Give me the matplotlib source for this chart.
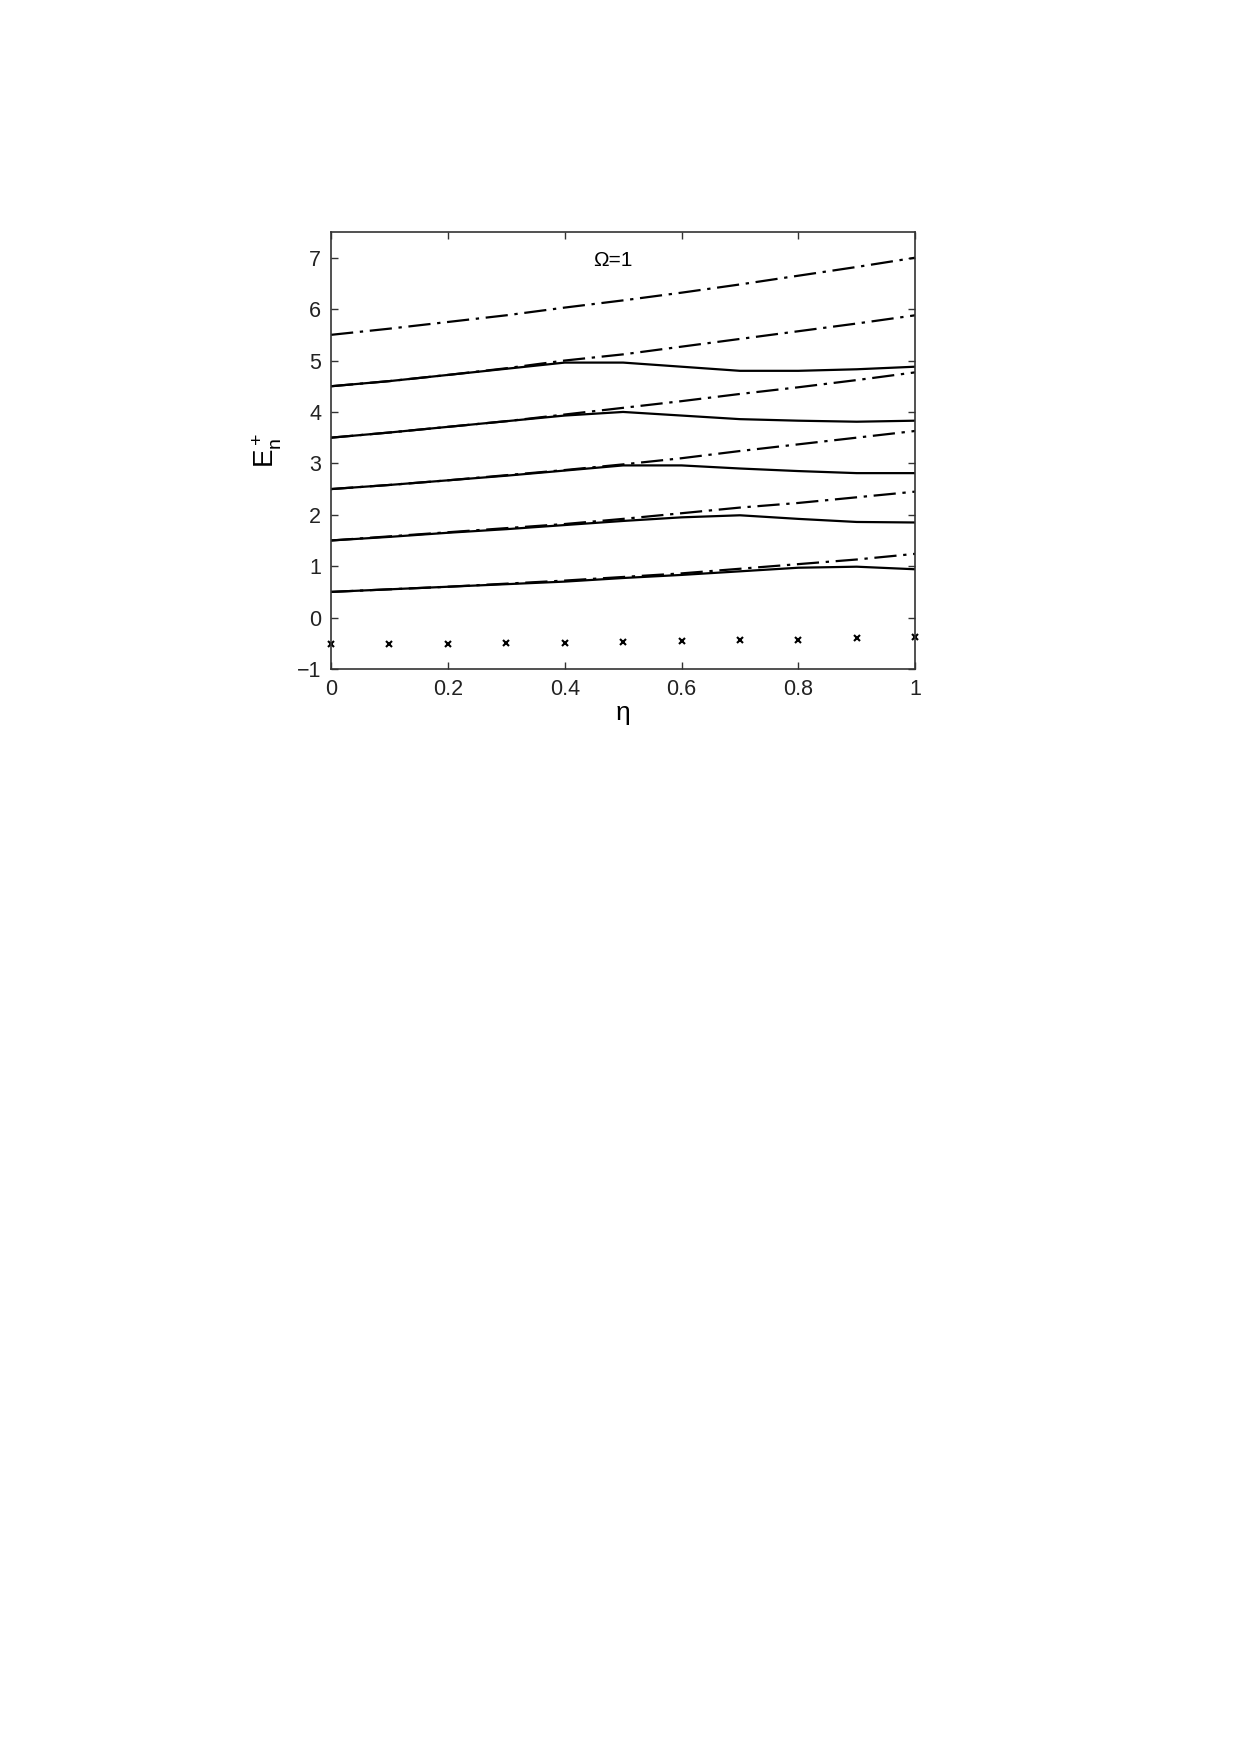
import matplotlib
matplotlib.use('Agg')
import matplotlib.pyplot as plt
import numpy as np

plt.rcParams['font.family'] = ['Liberation Sans', 'DejaVu Sans']
plt.rcParams['mathtext.fontset'] = 'custom'
plt.rcParams['mathtext.rm'] = 'Liberation Sans'
plt.rcParams['mathtext.it'] = 'Liberation Sans'

# eta grid
eta = [0.0, 0.1, 0.2, 0.3, 0.4, 0.5, 0.6, 0.7, 0.8, 0.9, 1.0]

# dash-dot curves (upper branches)
dd1 = [5.50, 5.62, 5.75, 5.88, 6.03, 6.17, 6.32, 6.48, 6.65, 6.82, 7.00]
dd2 = [4.50, 4.60, 4.72, 4.85, 5.00, 5.12, 5.27, 5.42, 5.57, 5.72, 5.88]
dd3 = [3.50, 3.60, 3.71, 3.82, 3.95, 4.08, 4.21, 4.35, 4.48, 4.62, 4.77]
dd4 = [2.50, 2.58, 2.67, 2.77, 2.87, 2.98, 3.10, 3.24, 3.37, 3.50, 3.63]
dd5 = [1.50, 1.58, 1.66, 1.74, 1.82, 1.92, 2.03, 2.14, 2.23, 2.34, 2.45]
dd6 = [0.50, 0.55, 0.60, 0.66, 0.72, 0.79, 0.86, 0.95, 1.04, 1.13, 1.24]

# solid curves
s1 = [4.50, 4.60, 4.72, 4.84, 4.96, 4.96, 4.88, 4.80, 4.80, 4.83, 4.88]
s2 = [3.50, 3.60, 3.71, 3.82, 3.93, 4.00, 3.93, 3.86, 3.83, 3.81, 3.83]
s3 = [2.50, 2.58, 2.67, 2.76, 2.86, 2.96, 2.96, 2.90, 2.85, 2.81, 2.81]
s4 = [1.50, 1.57, 1.65, 1.72, 1.80, 1.88, 1.95, 1.99, 1.92, 1.86, 1.85]
s5 = [0.50, 0.55, 0.60, 0.65, 0.70, 0.77, 0.83, 0.90, 0.97, 0.99, 0.94]

# crosses (ground level)
xc = [-0.51, -0.52, -0.52, -0.49, -0.49, -0.48, -0.46, -0.43, -0.43, -0.40, -0.37]

fig = plt.figure(figsize=(12.4, 17.55), dpi=100)
ax = fig.add_axes([0.267, 0.6188, 0.471, 0.249])

for d in [dd1, dd2, dd3, dd4, dd5, dd6]:
    ax.plot(eta, d, color='black', lw=1.6, dashes=(10, 3, 1.5, 3))
for s in [s1, s2, s3, s4, s5]:
    ax.plot(eta, s, color='black', lw=1.6)
ax.plot(eta, xc, 'x', color='black', ms=4, mew=1.5, clip_on=False)

ax.set_xlim(0, 1)
ax.set_ylim(-1, 7.5)
ax.set_xticks([0, 0.2, 0.4, 0.6, 0.8, 1])
ax.set_xticklabels(['0', '0.2', '0.4', '0.6', '0.8', '1'])
ax.set_yticks([-1, 0, 1, 2, 3, 4, 5, 6, 7])
ax.set_yticklabels(['\u22121', '0', '1', '2', '3', '4', '5', '6', '7'])
ax.tick_params(direction='in', top=True, right=True, length=5, width=1,
               labelsize=15.5, colors='#333333', labelcolor='#222222')
ax.tick_params(axis='x', pad=7)
ax.tick_params(axis='y', pad=7)
for sp in ax.spines.values():
    sp.set_linewidth(1.2)
    sp.set_color('#333333')

ax.text(0.449, 6.94, '\u03a9=1', fontsize=15, ha='left', va='center')
ax.set_xlabel('\u03b7', fontsize=19, labelpad=1)
ax.set_ylabel(r'$\mathregular{E_n^+}$', fontsize=20, labelpad=9)

fig.savefig('out.png', dpi=100, facecolor='white')
